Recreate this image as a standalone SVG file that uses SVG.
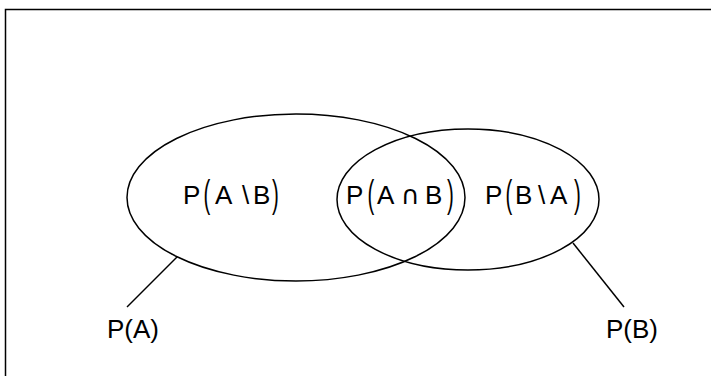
<svg xmlns="http://www.w3.org/2000/svg" width="711" height="376" viewBox="0 0 711 376">
<style>
.shape{fill:none;stroke:#000;stroke-width:1.5}
.t{font-family:"Liberation Sans",Arial,sans-serif;font-size:26px;fill:#000}
.p{font-family:"Liberation Sans",Arial,sans-serif;font-size:24px;fill:#000}
.c{font-family:"DejaVu Sans",sans-serif;font-size:26px;fill:#000}
</style>
<rect width="711" height="376" fill="#fff"/>
<path class="shape" d="M5.5,380 V9.5 H720" stroke-width="2"/>
<g id="setA">
<ellipse class="shape" cx="296" cy="197.5" rx="169" ry="83.5"/>
</g>
<g id="setB">
<ellipse class="shape" cx="468" cy="199.5" rx="131" ry="70.5"/>
</g>
<g id="connectors">
<line class="shape" x1="177" y1="257" x2="127" y2="307"/>
<line class="shape" x1="573" y1="243" x2="624" y2="307"/>
</g>
<g id="label-AminusB">
<text class="t" x="183" y="203.5">P</text>
<text class="p" transform="translate(203.5,206.5) scale(0.85,1.64)">(</text>
<text class="t" x="215" y="203.5">A</text>
<text class="t" x="242" y="203.5">\</text>
<text class="t" x="253" y="203.5">B</text>
<text class="p" transform="translate(272,206.5) scale(0.85,1.64)">)</text>
</g>
<g id="label-AcapB">
<text class="t" x="346" y="204">P</text>
<text class="p" transform="translate(367.5,206.5) scale(0.85,1.64)">(</text>
<text class="t" x="377" y="204">A</text>
<text class="c" x="401" y="204">∩</text>
<text class="t" x="425" y="204">B</text>
<text class="p" transform="translate(447,206.5) scale(0.85,1.64)">)</text>
</g>
<g id="label-BminusA">
<text class="t" x="485" y="204">P</text>
<text class="p" transform="translate(505.5,206.5) scale(0.85,1.64)">(</text>
<text class="t" x="515" y="204">B</text>
<text class="t" x="538" y="204">\</text>
<text class="t" x="550" y="204">A</text>
<text class="p" transform="translate(574,206.5) scale(0.85,1.64)">)</text>
</g>
<g id="label-PA">
<text class="t" x="107" y="338">P(A)</text>
</g>
<g id="label-PB">
<text class="t" x="606" y="338">P(B)</text>
</g>
</svg>
